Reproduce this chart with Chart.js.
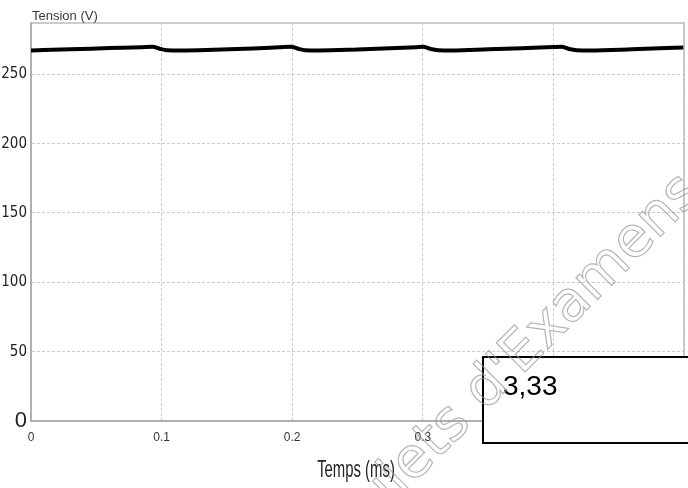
<!DOCTYPE html>
<html>
<head>
<meta charset="utf-8">
<script src="https://cdn.jsdelivr.net/npm/chart.js@4.4.1/dist/chart.umd.min.js"></script>
<style>
  html, body { margin: 0; padding: 0; background: #ffffff; }
  #wrap { width: 688px; height: 488px; }
</style>
</head>
<body>
<div id="wrap"><canvas id="c" width="688" height="488"></canvas></div>
<script>
// ---- data ----
const time = [0, 0.03, 0.06, 0.085, 0.093, 0.099, 0.104, 0.115, 0.14, 0.17, 0.19, 0.199, 0.205, 0.21, 0.22, 0.25, 0.28, 0.295, 0.300, 0.306, 0.312, 0.322, 0.35, 0.38, 0.40, 0.406, 0.412, 0.418, 0.428, 0.46, 0.5];
const voltage = [267.2, 268.0, 268.9, 269.6, 269.9, 268.3, 267.4, 267.2, 267.7, 268.6, 269.5, 269.9, 268.3, 267.4, 267.2, 267.9, 268.9, 269.6, 269.9, 268.3, 267.4, 267.2, 268.0, 269.0, 269.7, 269.9, 268.3, 267.4, 267.2, 268.0, 269.4];
const xTicks = [0, 0.1, 0.2, 0.3, 0.4, 0.5];
const xTickLabels = ['0', '0.1', '0.2', '0.3', '0.4', ''];
const yTicks = [0, 50, 100, 150, 200, 250];
const yTickLabels = ['0', '50', '100', '150', '200', '250'];
const yLabel = 'Tension (V)';
const xLabel = 'Temps (ms)';
const boxText = '3,33';
const watermark = "Sujets d'Examens";

const points = time.map((t, i) => ({ x: t, y: voltage[i] }));

const decor = {
  id: 'decor',
  afterDraw(chart) {
    const ctx = chart.ctx, a = chart.chartArea;
    ctx.save();
    // top / right frame
    ctx.strokeStyle = '#bcbcbc';
    ctx.lineWidth = 1.5;
    ctx.beginPath();
    ctx.moveTo(a.left, a.top);
    ctx.lineTo(a.right, a.top);
    ctx.lineTo(a.right, a.bottom);
    ctx.stroke();
    // y label at top-left
    ctx.fillStyle = '#3a3a3a';
    ctx.font = '13px "Liberation Sans", Arial, sans-serif';
    ctx.textAlign = 'left';
    ctx.textBaseline = 'alphabetic';
    ctx.fillText(yLabel, 32, 20);
    // x axis title (condensed)
    ctx.save();
    ctx.translate(356, 477);
    ctx.scale(0.62, 1);
    ctx.font = '24px "Liberation Sans", Arial, sans-serif';
    ctx.textAlign = 'center';
    ctx.fillStyle = '#222';
    ctx.fillText(xLabel, 0, 0);
    ctx.restore();
    // annotation box
    ctx.fillStyle = '#ffffff';
    ctx.fillRect(483, 357, 210, 86);
    ctx.strokeStyle = '#000';
    ctx.lineWidth = 2;
    ctx.strokeRect(483, 357, 210, 86);
    ctx.fillStyle = '#000';
    ctx.font = '28px "Liberation Sans", Arial, sans-serif';
    ctx.textAlign = 'left';
    ctx.fillText(boxText, 503, 395);
    // watermark
    ctx.save();
    ctx.translate(351, 546);
    ctx.rotate(-Math.PI / 4);
    ctx.font = '56px "DejaVu Sans", sans-serif';
    ctx.strokeStyle = 'rgba(150,150,150,0.7)';
    ctx.lineWidth = 1.2;
    ctx.strokeText(watermark, 0, 0);
    ctx.restore();
    ctx.restore();
  }
};

new Chart(document.getElementById('c'), {
  type: 'line',
  data: {
    datasets: [{
      data: points,
      borderColor: '#000',
      borderWidth: 4,
      pointRadius: 0,
      cubicInterpolationMode: 'monotone',
      fill: false
    }]
  },
  options: {
    responsive: false,
    devicePixelRatio: 1,
    animation: false,
    events: [],
    layout: { autoPadding: false, padding: { top: 23, right: 4, left: 0, bottom: 0 } },
    plugins: { legend: { display: false }, tooltip: { enabled: false }, title: { display: false } },
    scales: {
      x: {
        type: 'linear',
        min: 0, max: 0.5,
        afterBuildTicks: s => { s.ticks = xTicks.map(v => ({ value: v })); },
        afterFit: s => { s.height = 67; s.paddingLeft = 0; s.paddingRight = 0; },
        ticks: {
          autoSkip: false,
          maxRotation: 0,
          padding: 9,
          color: '#333',
          font: { family: '"Liberation Sans", Arial, sans-serif', size: 12 },
          callback: (v, i) => xTickLabels[i]
        },
        grid: { color: '#cccccc', drawTicks: false, tickLength: 0, lineWidth: 1 },
        border: { color: '#b0b0b0', width: 2, dash: [3, 2] }
      },
      y: {
        min: 0, max: 287,
        afterBuildTicks: s => { s.ticks = yTicks.map(v => ({ value: v })); },
        afterFit: s => { s.width = 31; },
        ticks: {
          autoSkip: false,
          padding: 4,
          color: '#222',
          font: c => (c.tick && c.tick.value === 0)
            ? { family: '"Liberation Sans", Arial, sans-serif', size: 22 }
            : { family: '"Liberation Sans Narrow", "DejaVu Sans Condensed", Arial, sans-serif', size: 15 },
          callback: (v, i) => yTickLabels[i]
        },
        grid: { color: '#cccccc', drawTicks: false, tickLength: 0, lineWidth: 1 },
        border: { color: '#b0b0b0', width: 2, dash: [3, 2] }
      }
    }
  },
  plugins: [decor]
});
</script>
</body>
</html>
